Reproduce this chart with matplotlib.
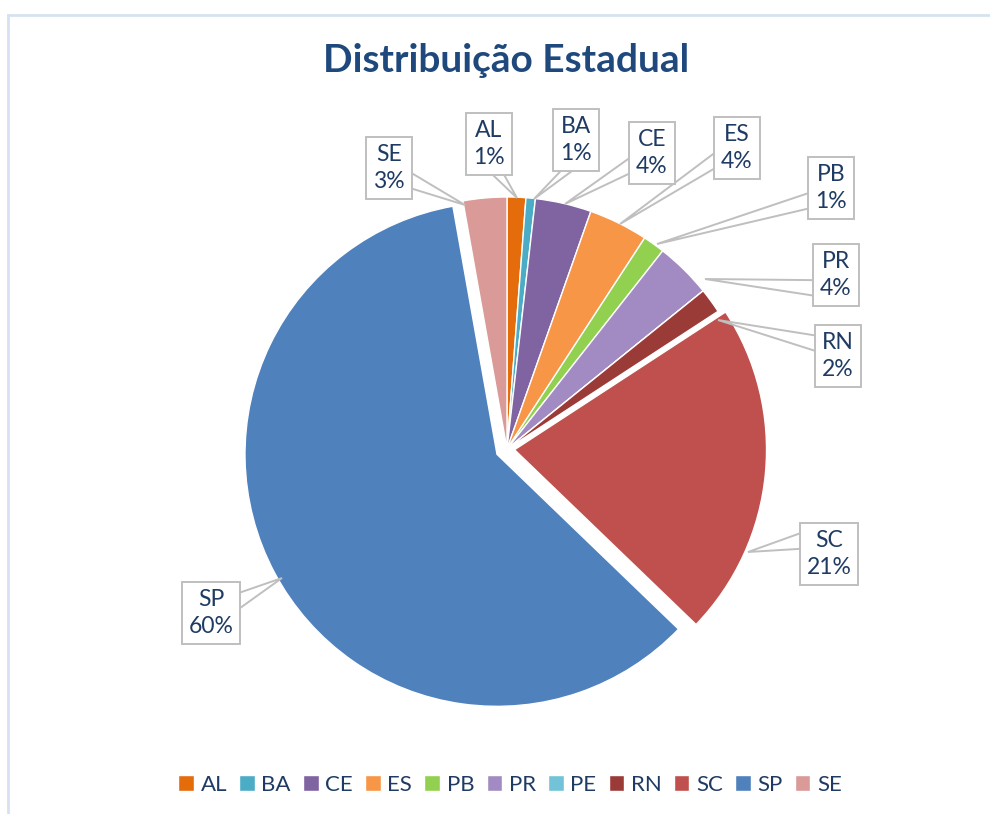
import matplotlib
matplotlib.use('Agg')
import matplotlib.pyplot as plt
from matplotlib.patches import Polygon
from matplotlib.lines import Line2D
import numpy as np

# ---------------- data ----------------
states = ['AL', 'BA', 'CE', 'ES', 'PB', 'PR', 'PE', 'RN', 'SC', 'SP', 'SE']
shares = [1.2, 0.6, 3.6, 3.8, 1.4, 3.6, 0.0, 1.6, 21.4, 60.0, 2.8]
colors = ['#E46C0A', '#4BACC6', '#8064A2', '#F79646', '#92D050', '#A28BC2',
          '#72C3D8', '#9B3B38', '#C0504D', '#4F81BD', '#DA9A98']
explode = [0, 0, 0, 0, 0, 0, 0, 0, 0.03, 0.045, 0]
title = 'Distribuição Estadual'

# ---------------- layout (pixels) ----------------
W, H = 990, 814
CX, CY, R = 507, 449, 252
label_box_centers = {
    'SE': (389, 168), 'AL': (489, 144), 'BA': (576, 140), 'CE': (652, 153),
    'ES': (737, 148), 'PB': (831, 188), 'PR': (836, 275), 'RN': (838, 356),
    'SC': (829, 554), 'SP': (211, 613),
}
label_tips = {
    'SE': (465, 205), 'AL': (517, 198), 'BA': (534, 199), 'CE': (565, 204),
    'ES': (620, 224), 'PB': (657, 244), 'PR': (705, 279), 'RN': (718, 320),
    'SC': (748, 552), 'SP': (282, 578),
}

TXT = '#1F3B63'
FONT = 'Lato'


def p2d(px, py):
    return (px - CX) / R, (CY - py) / R


fig = plt.figure(figsize=(W / 100, H / 100), dpi=100)
fig.patch.set_facecolor('white')
ax = fig.add_axes([0, 0, 1, 1])

wedges, _ = ax.pie(shares, colors=colors, explode=explode, startangle=90,
                   counterclock=False, radius=1.0, center=(0, 0),
                   wedgeprops=dict(edgecolor='white', linewidth=1.0))
ax.set_xlim(-CX / R, (W - CX) / R)
ax.set_ylim((CY - H) / R, CY / R)
ax.set_aspect('equal')
ax.axis('off')

# chart frame
fig.add_artist(Line2D([8 / W, 1], [1 - 15 / H, 1 - 15 / H], transform=fig.transFigure,
                      color='#D6E2F1', lw=2))
fig.add_artist(Line2D([8 / W, 8 / W], [1 - 15 / H, 0], transform=fig.transFigure,
                      color='#D6E2F1', lw=2))

# title
fig.text(506 / W, 1 - 61 / H, title, ha='center', va='center', fontsize=28,
         fontweight='bold', color='#1F497D', family=FONT)

# labels
texts = {}
for s, v in zip(states, shares):
    if s not in label_box_centers:
        continue
    bx, by = label_box_centers[s]
    t = ax.text(*p2d(bx, by), f'{s}\n{v:.0f}%', ha='center', va='center',
                fontsize=16.5, color=TXT, family=FONT, linespacing=1.35,
                bbox=dict(boxstyle='square,pad=0.3', fc='white', ec='#BFBFBF', lw=1.4),
                zorder=5)
    texts[s] = t

fig.canvas.draw()
renderer = fig.canvas.get_renderer()
inv = ax.transData.inverted()
for s, t in texts.items():
    bb = t.get_bbox_patch().get_window_extent(renderer)
    x0, y0 = inv.transform((bb.x0, bb.y0))
    x1, y1 = inv.transform((bb.x1, bb.y1))
    cx, cy = (x0 + x1) / 2, (y0 + y1) / 2
    w, h = x1 - x0, y1 - y0
    tx, ty = p2d(*label_tips[s])
    dx, dy = (tx - cx) / w, (ty - cy) / h
    if abs(dx) > abs(dy):
        xe = x0 if dx < 0 else x1
        if ty > cy:
            f1, f2 = 2 / 12, 5 / 12
        else:
            f1, f2 = 7 / 12, 10 / 12
        b1 = (xe, y1 - f1 * h)
        b2 = (xe, y1 - f2 * h)
    else:
        ye = y0 if dy < 0 else y1
        if tx < cx:
            f1, f2 = 2 / 12, 5 / 12
        else:
            f1, f2 = 7 / 12, 10 / 12
        b1 = (x0 + f1 * w, ye)
        b2 = (x0 + f2 * w, ye)
    ax.add_patch(Polygon([b1, (tx, ty), b2], closed=False, fill=False,
                         ec='#BFBFBF', lw=1.4, zorder=4))

# legend
leg = fig.legend(wedges, states, loc='center', bbox_to_anchor=(510 / W, 1 - 785 / H),
                 ncol=len(states), frameon=False, handlelength=0.7, handleheight=0.7,
                 handletextpad=0.3, columnspacing=0.55, borderpad=0.2,
                 prop=dict(family=FONT, size=16))
for txt in leg.get_texts():
    txt.set_color(TXT)

fig.savefig('out.png', dpi=100, facecolor='white')
